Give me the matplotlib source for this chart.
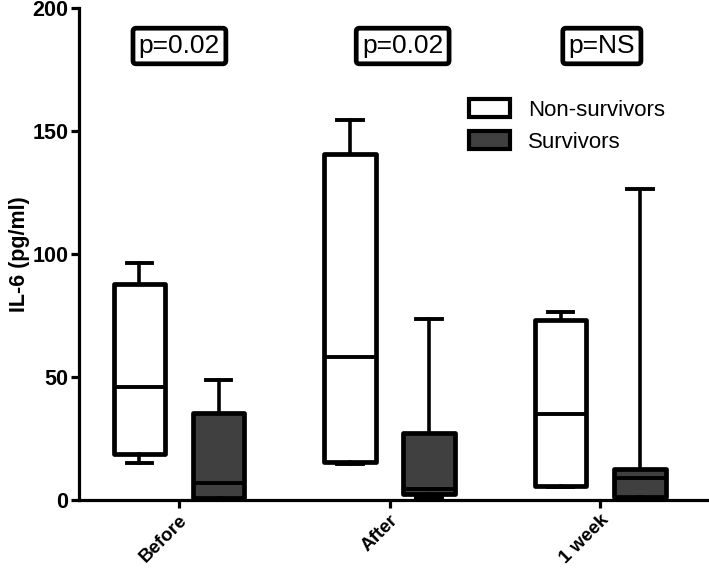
import matplotlib
matplotlib.use('Agg')
import matplotlib.pyplot as plt
from matplotlib.patches import Patch

plt.rcParams['font.family'] = ['Liberation Sans', 'DejaVu Sans']

groups = ['Before', 'After', '1 week']
p_labels = ['p=0.02', 'p=0.02', 'p=NS']
series = ['Non-survivors', 'Survivors']

# five-number summaries: whisker low, Q1, median, Q3, whisker high
nonsurv_lo = [15.0, 14.8, 5.4]
nonsurv_q1 = [18.8, 15.3, 5.8]
nonsurv_med = [46.0, 58.0, 34.8]
nonsurv_q3 = [88.0, 140.7, 73.0]
nonsurv_hi = [96.5, 154.5, 76.4]

surv_lo = [0.5, 0.8, 0.3]
surv_q1 = [1.0, 2.6, 1.2]
surv_med = [7.0, 4.3, 9.0]
surv_q3 = [35.5, 27.3, 12.8]
surv_hi = [48.6, 73.5, 126.5]

colors = ['white', '#404040']


def make_stats(lo, q1, med, q3, hi):
    out = []
    for i in range(len(lo)):
        out.append(dict(whislo=lo[i], q1=q1[i], med=med[i], q3=q3[i], whishi=hi[i], fliers=[]))
    return out


fig = plt.figure(figsize=(7.09, 5.68), dpi=100)
ax = fig.add_axes([0.1114, 0.1197, 0.886, 0.866])

offset = 0.188
width = 0.245
all_stats = [make_stats(nonsurv_lo, nonsurv_q1, nonsurv_med, nonsurv_q3, nonsurv_hi),
             make_stats(surv_lo, surv_q1, surv_med, surv_q3, surv_hi)]
for k, stats in enumerate(all_stats):
    pos = [i + (2 * k - 1) * offset for i in range(len(groups))]
    ax.bxp(stats, positions=pos, widths=width, patch_artist=True, showfliers=False,
           boxprops=dict(facecolor=colors[k], edgecolor='black', linewidth=3.4, joinstyle='round'),
           medianprops=dict(color='black', linewidth=2.8),
           whiskerprops=dict(color='black', linewidth=2.6),
           capprops=dict(color='black', linewidth=2.8),
           capwidths=width / 2, manage_ticks=False)

ax.set_xlim(-0.475, 2.508)
ax.set_ylim(0, 200)
ax.set_yticks([0, 50, 100, 150, 200])
ax.set_xticks(range(len(groups)))
ax.set_xticklabels(groups, rotation=45, ha='right', va='top', rotation_mode='anchor',
                   fontsize=13.5, fontweight='bold')
for lab in ax.get_yticklabels():
    lab.set_fontsize(15.5)
    lab.set_fontweight('bold')
ax.set_ylabel('IL-6 (pg/ml)', fontsize=15.5, fontweight='bold', labelpad=2)

for s in ['top', 'right']:
    ax.spines[s].set_visible(False)
for s in ['left', 'bottom']:
    ax.spines[s].set_linewidth(2.3)
ax.tick_params(axis='y', width=2.3, length=5.5, pad=2)
ax.tick_params(axis='x', width=2.3, length=5.5, pad=3)

p_x = [0.002, 1.062, 2.008]
for i, txt in enumerate(p_labels):
    ax.text(p_x[i], 184.6, txt, ha='center', va='center', fontsize=19,
            bbox=dict(boxstyle='round,pad=0.22,rounding_size=0.12', facecolor='white',
                      edgecolor='black', linewidth=3.4))

handles = [Patch(facecolor=colors[k], edgecolor='black', linewidth=3.0, label=series[k])
           for k in range(2)]
ax.legend(handles=handles, loc='upper left', bbox_to_anchor=(0.6615, 0.825),
          bbox_transform=fig.transFigure, frameon=False, fontsize=16,
          handlelength=1.85, handleheight=0.85, handletextpad=0.8,
          labelspacing=0.45, borderpad=0, borderaxespad=0)

fig.savefig('out.png', dpi=100)
